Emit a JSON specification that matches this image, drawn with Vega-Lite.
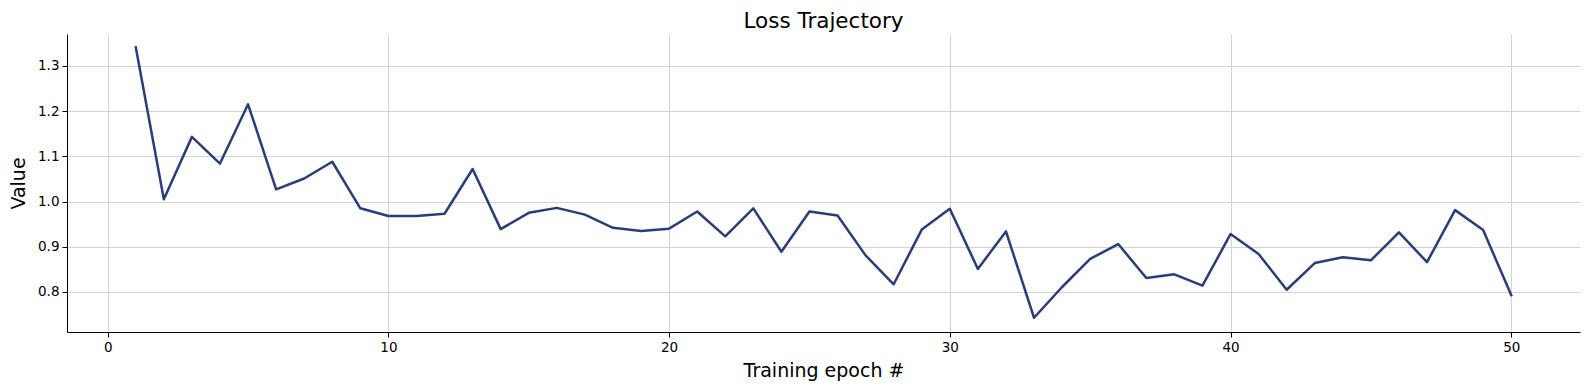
{
  "$schema": "https://vega.github.io/schema/vega-lite/v6.json",
  "width": 1513,
  "height": 298,
  "autosize": {"type": "none"},
  "padding": {"left": 67, "top": 34, "right": 9, "bottom": 58},
  "background": "white",
  "config": {
    "view": {"stroke": null},
    "font": "DejaVu Sans",
    "axis": {
      "domainColor": "black",
      "domainWidth": 1,
      "tickColor": "black",
      "tickWidth": 1,
      "tickSize": 5,
      "labelColor": "black",
      "labelFont": "DejaVu Sans",
      "labelFontSize": 13.5,
      "labelPadding": 3,
      "gridColor": "#d3d3d3",
      "gridWidth": 1,
      "titleFont": "DejaVu Sans",
      "titleFontWeight": "normal",
      "titleColor": "black",
      "titleFontSize": 19
    }
  },
  "title": {
    "text": "Loss Trajectory",
    "font": "DejaVu Sans",
    "fontSize": 21.5,
    "fontWeight": "normal",
    "color": "black",
    "anchor": "middle",
    "baseline": "alphabetic",
    "offset": 7,
    "dy": 22
  },
  "data": {
    "values": [
      {"epoch": 1, "value": 1.341},
      {"epoch": 2, "value": 1.005},
      {"epoch": 3, "value": 1.143},
      {"epoch": 4, "value": 1.084},
      {"epoch": 5, "value": 1.215},
      {"epoch": 6, "value": 1.027},
      {"epoch": 7, "value": 1.051},
      {"epoch": 8, "value": 1.088},
      {"epoch": 9, "value": 0.985},
      {"epoch": 10, "value": 0.968},
      {"epoch": 11, "value": 0.968},
      {"epoch": 12, "value": 0.973},
      {"epoch": 13, "value": 1.072},
      {"epoch": 14, "value": 0.939},
      {"epoch": 15, "value": 0.975},
      {"epoch": 16, "value": 0.986},
      {"epoch": 17, "value": 0.971},
      {"epoch": 18, "value": 0.942},
      {"epoch": 19, "value": 0.935},
      {"epoch": 20, "value": 0.940},
      {"epoch": 21, "value": 0.978},
      {"epoch": 22, "value": 0.923},
      {"epoch": 23, "value": 0.985},
      {"epoch": 24, "value": 0.889},
      {"epoch": 25, "value": 0.978},
      {"epoch": 26, "value": 0.969},
      {"epoch": 27, "value": 0.881},
      {"epoch": 28, "value": 0.817},
      {"epoch": 29, "value": 0.938},
      {"epoch": 30, "value": 0.984},
      {"epoch": 31, "value": 0.851},
      {"epoch": 32, "value": 0.934},
      {"epoch": 33, "value": 0.743},
      {"epoch": 34, "value": 0.811},
      {"epoch": 35, "value": 0.873},
      {"epoch": 36, "value": 0.906},
      {"epoch": 37, "value": 0.831},
      {"epoch": 38, "value": 0.839},
      {"epoch": 39, "value": 0.814},
      {"epoch": 40, "value": 0.928},
      {"epoch": 41, "value": 0.884},
      {"epoch": 42, "value": 0.805},
      {"epoch": 43, "value": 0.864},
      {"epoch": 44, "value": 0.877},
      {"epoch": 45, "value": 0.870},
      {"epoch": 46, "value": 0.932},
      {"epoch": 47, "value": 0.866},
      {"epoch": 48, "value": 0.981},
      {"epoch": 49, "value": 0.937},
      {"epoch": 50, "value": 0.793}
    ]
  },
  "mark": {"type": "line", "color": "#283d7c", "strokeWidth": 2.5, "strokeJoin": "round", "strokeCap": "square"},
  "encoding": {
    "x": {
      "field": "epoch",
      "type": "quantitative",
      "scale": {"domain": [-1.45, 52.45], "nice": false, "zero": false},
      "axis": {
        "values": [0, 10, 20, 30, 40, 50],
        "format": "d",
        "title": "Training epoch #",
        "titleY": 44,
        "titleBaseline": "alphabetic",
        "grid": true
      }
    },
    "y": {
      "field": "value",
      "type": "quantitative",
      "scale": {"domain": [0.7115, 1.3705], "nice": false, "zero": false},
      "axis": {
        "values": [0.8, 0.9, 1.0, 1.1, 1.2, 1.3],
        "format": ".1f",
        "title": "Value",
        "titleX": -42.5,
        "titleY": 149,
        "titleAngle": -90,
        "titleAlign": "center",
        "titleBaseline": "alphabetic",
        "grid": true
      }
    }
  }
}
